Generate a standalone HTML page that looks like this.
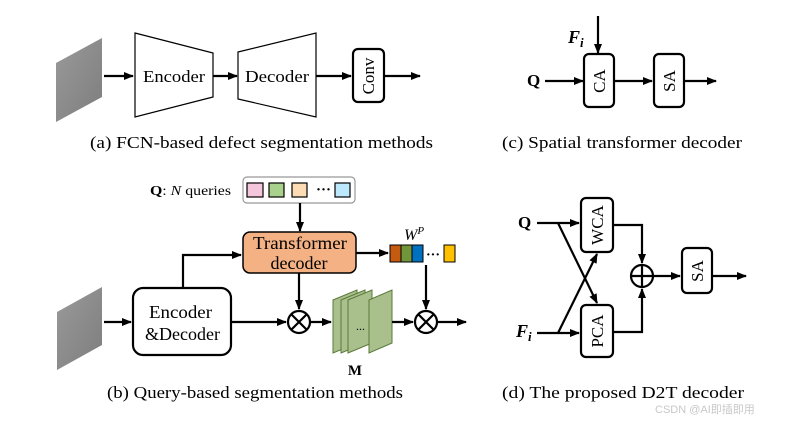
<!DOCTYPE html>
<html><head><meta charset="utf-8"><style>
html,body{margin:0;padding:0;background:#fff;}
svg{display:block;font-family:"Liberation Serif",serif;}
</style></head><body>
<svg width="785" height="422" viewBox="0 0 785 422" xmlns="http://www.w3.org/2000/svg">
<defs>
<marker id="ar" markerWidth="10" markerHeight="8" refX="9" refY="4" orient="auto" markerUnits="userSpaceOnUse"><path d="M0,0 L10,4 L0,8 Z" fill="#000"/></marker>
<linearGradient id="g" x1="0" y1="0" x2="1" y2="1"><stop offset="0" stop-color="#9a9a9a"/><stop offset="1" stop-color="#7d7d7d"/></linearGradient>
</defs>
<g stroke="#000" stroke-width="2.2" fill="none">
<polygon points="56,63 102,38 102,97 56,122" fill="url(#g)" stroke="none"/>
<line x1="104" y1="76" x2="133" y2="76" marker-end="url(#ar)"/>
<polygon points="135,33 213,53 213,97 135,117" stroke-width="1.2"/>
<line x1="213" y1="76" x2="237" y2="76" marker-end="url(#ar)"/>
<polygon points="238,52 316,33 316,117 238,99" stroke-width="1.2"/>
<line x1="316" y1="76" x2="351" y2="76" marker-end="url(#ar)"/>
<rect x="353" y="49" width="31" height="53" rx="5"/>
<line x1="384" y1="76" x2="420" y2="76" marker-end="url(#ar)"/>
<line x1="598" y1="16" x2="598" y2="53" marker-end="url(#ar)"/>
<line x1="545" y1="81" x2="583" y2="81" marker-end="url(#ar)"/>
<rect x="584" y="54" width="30" height="53" rx="5"/>
<line x1="614" y1="81" x2="652" y2="81" marker-end="url(#ar)"/>
<rect x="654" y="54" width="30" height="53" rx="5"/>
<line x1="684" y1="81" x2="716" y2="81" marker-end="url(#ar)"/>
<polygon points="57,312 102,287 102,345 57,370" fill="url(#g)" stroke="none"/>
<rect x="243" y="177" width="112" height="26" rx="4" stroke="#999" stroke-width="1.2"/>
<rect x="247" y="183" width="16" height="14" fill="#f4c6dc" stroke-width="1.2"/>
<rect x="269" y="183" width="15" height="14" fill="#a9d18e" stroke-width="1.2"/>
<rect x="292" y="183" width="15" height="14" fill="#fbdcb5" stroke-width="1.2"/>
<rect x="335" y="183" width="15" height="14" fill="#bde7fa" stroke-width="1.2"/>
<line x1="300" y1="203" x2="300" y2="231" marker-end="url(#ar)"/>
<rect x="243" y="232" width="113" height="41" rx="7" fill="#f4b183" stroke-width="1.5"/>
<line x1="356" y1="253" x2="388" y2="253" marker-end="url(#ar)"/>
<rect x="390" y="245" width="11" height="17" fill="#c55a11" stroke-width="1"/>
<rect x="401" y="245" width="11" height="17" fill="#70953b" stroke-width="1"/>
<rect x="412" y="245" width="11" height="17" fill="#0070c0" stroke-width="1"/>
<rect x="444" y="245" width="11" height="17" fill="#ffc000" stroke-width="1"/>
<line x1="104" y1="322" x2="131" y2="322" marker-end="url(#ar)"/>
<rect x="133" y="288" width="98" height="67" rx="10"/>
<polyline points="183,288 183,255 241,255" marker-end="url(#ar)"/>
<line x1="231" y1="322" x2="286" y2="322" marker-end="url(#ar)"/>
<line x1="299" y1="273" x2="299" y2="309" marker-end="url(#ar)"/>
<circle cx="299" cy="322" r="11"/>
<line x1="291" y1="314" x2="307" y2="330"/><line x1="307" y1="314" x2="291" y2="330"/>
<line x1="310" y1="322" x2="331" y2="322" marker-end="url(#ar)"/>
<g fill="#a9c08c" stroke="#5a7a3a" stroke-width="1">
<polygon points="333,300 357,290 357,343 333,353"/>
<polygon points="341,300 365,290 365,343 341,353"/>
<polygon points="348,300 372,290 372,343 348,353"/>
<polygon points="369,300 392,290 392,343 369,353"/>
</g>
<line x1="392" y1="322" x2="413" y2="322" marker-end="url(#ar)"/>
<line x1="426" y1="265" x2="426" y2="309" marker-end="url(#ar)"/>
<circle cx="426" cy="322" r="11"/>
<line x1="418" y1="314" x2="434" y2="330"/><line x1="434" y1="314" x2="418" y2="330"/>
<line x1="437" y1="322" x2="466" y2="322" marker-end="url(#ar)"/>
<line x1="537" y1="223" x2="579" y2="223" marker-end="url(#ar)"/>
<line x1="537" y1="333" x2="579" y2="333" marker-end="url(#ar)"/>
<line x1="558" y1="223" x2="597" y2="303" marker-end="url(#ar)"/>
<line x1="558" y1="333" x2="597" y2="254" marker-end="url(#ar)"/>
<rect x="581" y="198" width="32" height="54" rx="5"/>
<rect x="581" y="305" width="32" height="52" rx="5"/>
<polyline points="613,225 642,225 642,263" marker-end="url(#ar)"/>
<polyline points="613,332 642,332 642,289" marker-end="url(#ar)"/>
<circle cx="642" cy="276" r="11"/>
<line x1="631" y1="276" x2="653" y2="276"/><line x1="642" y1="265" x2="642" y2="287"/>
<line x1="653" y1="276" x2="680" y2="276" marker-end="url(#ar)"/>
<rect x="682" y="248" width="30" height="45" rx="5"/>
<line x1="712" y1="276" x2="746" y2="276" marker-end="url(#ar)"/>
</g>
<g font-size="17" fill="#000">
<text x="143" y="82" textLength="62" lengthAdjust="spacingAndGlyphs">Encoder</text>
<text x="245" y="82" textLength="64" lengthAdjust="spacingAndGlyphs">Decoder</text>
<text transform="translate(374,76) rotate(-90)" text-anchor="middle">Conv</text>
<text x="90" y="148" textLength="343" lengthAdjust="spacingAndGlyphs">(a) FCN-based defect segmentation methods</text>
<text x="568" y="43" font-weight="bold" font-style="italic" font-size="18">F<tspan font-size="13" dy="4">i</tspan></text>
<text x="527" y="86" font-weight="bold" font-size="17">Q</text>
<text transform="translate(605,81) rotate(-90)" text-anchor="middle">CA</text>
<text transform="translate(675,81) rotate(-90)" text-anchor="middle">SA</text>
<text x="502" y="148" textLength="240" lengthAdjust="spacingAndGlyphs">(c)  Spatial transformer decoder</text>
<text x="150" y="195" font-size="14" textLength="81" lengthAdjust="spacingAndGlyphs"><tspan font-weight="bold">Q</tspan>: <tspan font-style="italic">N</tspan> queries</text>
<text x="316" y="194" font-size="15" font-weight="bold">···</text>
<text x="253" y="249" font-size="18" textLength="94" lengthAdjust="spacingAndGlyphs">Transformer</text>
<text x="299" y="269" text-anchor="middle" font-size="18">decoder</text>
<text x="404" y="240" font-style="italic" font-size="16">W<tspan font-size="11" dy="-6">P</tspan></text>
<text x="426" y="259" font-size="14" font-weight="bold">···</text>
<text x="149" y="318" font-size="18" textLength="63" lengthAdjust="spacingAndGlyphs">Encoder</text>
<text x="145" y="340" font-size="18" textLength="75" lengthAdjust="spacingAndGlyphs">&amp;Decoder</text>
<text x="356" y="330" font-size="12">...</text>
<text x="355" y="375" text-anchor="middle" font-weight="bold" font-size="15">M</text>
<text x="107" y="398" textLength="296" lengthAdjust="spacingAndGlyphs">(b) Query-based segmentation methods</text>
<text x="518" y="228" font-weight="bold" font-size="17">Q</text>
<text x="516" y="337" font-weight="bold" font-style="italic" font-size="18">F<tspan font-size="13" dy="4">i</tspan></text>
<text transform="translate(603,225) rotate(-90)" text-anchor="middle">WCA</text>
<text transform="translate(603,331) rotate(-90)" text-anchor="middle">PCA</text>
<text transform="translate(703,271) rotate(-90)" text-anchor="middle">SA</text>
<text x="502" y="398" textLength="242" lengthAdjust="spacingAndGlyphs">(d)   The proposed D2T decoder</text>
</g>
<text x="655" y="413" font-family="Liberation Sans,Noto Sans CJK SC,sans-serif" font-size="11" fill="#c8c8c8">CSDN @AI即插即用</text>
</svg>
</body></html>
